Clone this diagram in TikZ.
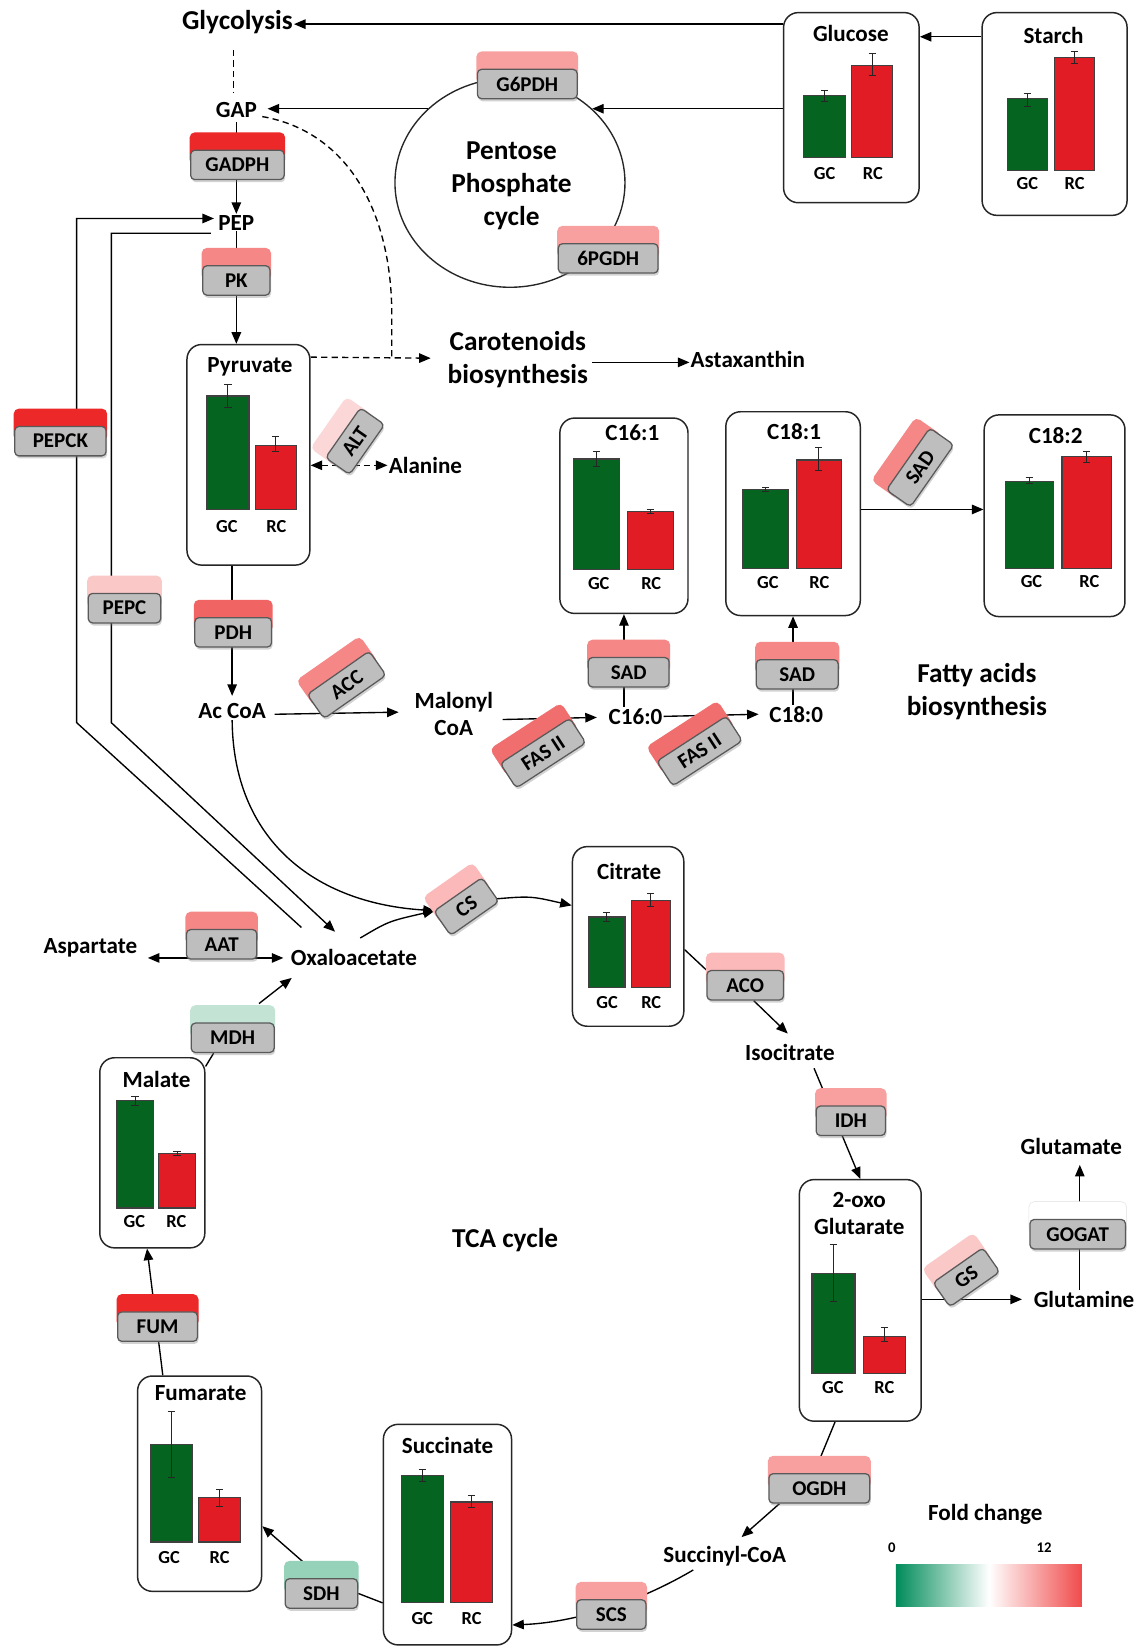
\documentclass[tikz,border=0pt]{standalone}
\usepackage{fontspec}
\setmainfont{Carlito}
\usetikzlibrary{arrows.meta,shadows,calc,shapes.geometric}
\pgfdeclarelayer{bg}
\pgfsetlayers{bg,main}
\definecolor{gbar}{RGB}{4,100,32}
\definecolor{rbar}{RGB}{226,28,36}
\definecolor{egray}{RGB}{190,190,190}
\definecolor{sred}{RGB}{236,40,40}
\definecolor{spdh}{RGB}{240,100,100}
\definecolor{sfas}{RGB}{240,110,110}
\definecolor{ssal}{RGB}{245,135,135}
\definecolor{slt}{RGB}{248,160,160}
\definecolor{saco}{RGB}{251,185,185}
\definecolor{spink}{RGB}{251,200,200}
\definecolor{salt}{RGB}{252,215,215}
\definecolor{smint}{RGB}{195,228,213}
\definecolor{smintb}{RGB}{150,210,185}
\definecolor{lgreen}{RGB}{0,140,90}
\definecolor{lred}{RGB}{240,75,75}
\newcommand\FontBig{\fontsize{26}{31.5}\selectfont\bfseries}
\newcommand\FontMed{\fontsize{22}{25.5}\selectfont\bfseries}
\newcommand\FontEnz{\fontsize{20}{22}\selectfont\bfseries}
\newcommand\FontLab{\fontsize{17.5}{19}\selectfont\bfseries}
\newcommand\FontTiny{\fontsize{14}{16}\selectfont\bfseries}
% enzyme: name, x, y, angle, strip colour, width, label
\newcommand\enz[7]{%
  \begin{scope}[shift={(#2,#3)},rotate=#4]
    \fill[#5,rounded corners=5pt] ({-#6/2-1},-31) rectangle ({#6/2+1},0);
    \node[enzbox,minimum width=#6,transform shape] (#1) at (0,0) {#7};
  \end{scope}}
% bar: colour, x1, x2, top, bottom, error top, error bottom
\newcommand\bbar[7]{%
  \draw[fill=#1,draw=black!75,line width=1.1pt] (#2,#4) rectangle (#3,#5);
  \draw[line width=0.9pt,black!85] ({(#2+#3)/2},#6) -- ({(#2+#3)/2},#7)
     ({(#2+#3)/2-3.5},#6) -- ({(#2+#3)/2+3.5},#6)
     ({(#2+#3)/2-3.5},#7) -- ({(#2+#3)/2+3.5},#7);}
% GC / RC labels: prefix, gc x, rc x, y
\newcommand\gcrc[4]{%
  \node[glab] (#1gc) at (#2,#4) {GC};
  \node[glab] (#1rc) at (#3,#4) {RC};}
\begin{document}
\begin{tikzpicture}[x=1pt,y=-1pt,
  mbox/.style={draw=black!85,line width=1.4pt,rounded corners=14pt,inner sep=0pt},
  enzbox/.style={draw=black!65,fill=egray,line width=1.2pt,rounded corners=4pt,
     minimum height=28pt,inner sep=0pt,font=\FontEnz,
     drop shadow={shadow xshift=1pt,shadow yshift=-2.5pt,opacity=0.35}},
  bigtxt/.style={inner sep=1pt,font=\FontBig,align=center},
  medtxt/.style={inner sep=1pt,font=\FontMed,align=center},
  ttl/.style={inner sep=1pt,font=\FontMed},
  glab/.style={inner sep=0pt,font=\FontLab},
  conn/.style={line width=1.3pt},
  arr/.style={conn,-{Triangle[length=11pt,width=9pt]}},
  darr/.style={conn,{Triangle[length=11pt,width=9pt]}-{Triangle[length=11pt,width=9pt]}},
  dsh/.style={conn,dash pattern=on 6pt off 4pt}]
\begin{pgfonlayer}{bg}
\fill[white] (0,0) rectangle (1085,1568);
\end{pgfonlayer}
\useasboundingbox (0,0) rectangle (1085,1568);

% ---------- metabolite boxes ----------
\node[mbox,minimum width=129,minimum height=181] (glucose) at (810.5,102.5) {};
\node[mbox,minimum width=138,minimum height=193] (starch) at (1004,108.5) {};
\node[mbox,minimum width=117,minimum height=210] (pyruvate) at (236.5,433) {};
\node[mbox,minimum width=122,minimum height=186] (c161) at (594,491) {};
\node[mbox,minimum width=128,minimum height=194] (c181) at (755,489) {};
\node[mbox,minimum width=134,minimum height=192] (c182) at (1004,491) {};
\node[mbox,minimum width=106,minimum height=171] (citrate) at (598,891.5) {};
\node[mbox,minimum width=116,minimum height=230] (oxo) at (819,1238) {};
\node[mbox,minimum width=122,minimum height=210] (succinate) at (426,1461) {};
\node[mbox,minimum width=118,minimum height=205] (fumarate) at (190,1412.5) {};
\node[mbox,minimum width=100,minimum height=181] (malate) at (145,1097.5) {};

\node[ttl] (glucoseT) at (810,32) {Glucose};
\node[ttl] (starchT) at (1003,34) {Starch};
\node[ttl] (pyruvateT) at (238,349) {Pyruvate};
\node[ttl] (c161T) at (602,412) {C16:1};
\node[ttl] (c181T) at (756,411) {C18:1};
\node[ttl] (c182T) at (1005,415) {C18:2};
\node[ttl] (citrateT) at (599,830) {Citrate};
\node[medtxt] (oxoT) at (818,1155) {2-oxo\\Glutarate};
\node[ttl] (succinateT) at (426,1376) {Succinate};
\node[ttl] (fumarateT) at (191,1326) {Fumarate};
\node[ttl] (malateT) at (149,1028) {Malate};

% ---------- bars ----------
\bbar{gbar}{765}{805}{91}{150}{86}{97}
\bbar{rbar}{811}{850}{62}{150}{51}{72}
\gcrc{glc}{785}{831}{165}
\bbar{gbar}{959}{997}{94}{162}{89}{101}
\bbar{rbar}{1004}{1042}{55}{162}{49}{60}
\gcrc{sta}{978}{1023}{175}
\bbar{gbar}{197}{237}{377}{485}{366}{388}
\bbar{rbar}{243}{282}{424}{485}{416}{430}
\gcrc{pyr}{216}{263}{501}
\bbar{gbar}{546}{590}{437}{542}{430}{444}
\bbar{rbar}{597}{641}{487}{542}{485}{489}
\gcrc{cs1}{570}{620}{556}
\bbar{gbar}{707}{751}{466}{541}{464}{468}
\bbar{rbar}{758}{801}{438}{541}{426}{448}
\gcrc{cs2}{731}{780}{555}
\bbar{gbar}{957}{1003}{458}{541}{455}{460}
\bbar{rbar}{1011}{1058}{435}{541}{430}{440}
\gcrc{cs3}{982}{1037}{554}
\bbar{gbar}{560}{595}{873}{940}{869}{877}
\bbar{rbar}{601}{638}{857}{940}{851}{863}
\gcrc{cit}{578}{620}{954}
\bbar{gbar}{773}{814}{1212}{1308}{1185}{1239}
\bbar{rbar}{822}{862}{1272}{1308}{1264}{1277}
\gcrc{oxo}{793}{842}{1321}
\bbar{gbar}{382}{422}{1405}{1526}{1399}{1410}
\bbar{rbar}{429}{469}{1430}{1526}{1424}{1435}
\gcrc{suc}{402}{449}{1541}
\bbar{gbar}{143}{183}{1375}{1468}{1344}{1407}
\bbar{rbar}{189}{229}{1426}{1468}{1418}{1434}
\gcrc{fum}{161}{209}{1483}
\bbar{gbar}{111}{146}{1048}{1150}{1044}{1052}
\bbar{rbar}{151}{186}{1098}{1150}{1096}{1100}
\gcrc{mal}{128}{168}{1163}

% ---------- text labels ----------
\node[bigtxt] (glyco) at (226,21) {Glycolysis};
\node[medtxt] (gap) at (225,105) {GAP};
\node[medtxt] (pep) at (225,212) {PEP};
\node[draw=black!85,line width=1.3pt,ellipse,minimum width=219,minimum height=199,
      inner sep=0pt] (ppp) at (485.5,174) {};
\node[bigtxt] (ppptext) at (487,177) {Pentose\\Phosphate\\cycle};
\node[bigtxt] (carot) at (493,342) {Carotenoids\\biosynthesis};
\node[medtxt] (astax) at (712,342) {Astaxanthin};
\node[medtxt] (alanine) at (405,443) {Alanine};
\node[medtxt] (accoa) at (221,677) {Ac CoA};
\node[medtxt] (malonyl) at (432,680) {Malonyl\\CoA};
\node[medtxt] (c160) at (605,682) {C16:0};
\node[medtxt] (c180) at (758,680) {C18:0};
\node[bigtxt] (fatty) at (930,658) {Fatty acids\\biosynthesis};
\node[medtxt] (aspartate) at (86,902) {Aspartate};
\node[medtxt] (oaa) at (337,912) {Oxaloacetate};
\node[medtxt] (isocit) at (752,1002) {Isocitrate};
\node[medtxt] (glutamate) at (1020,1091) {Glutamate};
\node[medtxt] (glutamine) at (1032,1237) {Glutamine};
\node[bigtxt] (tca) at (481,1181) {TCA cycle};
\node[medtxt] (succoa) at (690,1482) {Succinyl-CoA};
\node[medtxt] (fold) at (938,1442) {Fold change};
\node[inner sep=0pt,font=\FontTiny] (lzero) at (849,1473) {0};
\node[inner sep=0pt,font=\FontTiny] (ltwelve) at (994,1473) {12};
\shade[left color=lgreen,right color=lred,middle color=white] (853,1489) rectangle (1030,1529);

\coordinate (pepckA) at (287,883);
\coordinate (pepcB) at (319,887);
\coordinate (csin) at (414,867);
\coordinate (csout) at (469,856);

% ---------- enzymes ----------
\enz{g6pdh}{502}{80}{0}{slt}{95}{G6PDH}
\enz{pgdh}{579}{246}{0}{slt}{95}{6PGDH}
\enz{gadph}{226}{157}{0}{sred}{89}{GADPH}
\enz{pk}{225}{267}{0}{ssal}{64}{PK}
\enz{pepck}{57.5}{420}{0}{sred}{87}{PEPCK}
\enz{pepc}{118.5}{579}{0}{spink}{69}{PEPC}
\enz{alt}{338}{420}{55}{salt}{58}{ALT}
\enz{pdh}{222}{602}{0}{spdh}{73}{PDH}
\enz{acc}{330}{652}{35}{ssal}{72}{ACC}
\enz{fasa}{517}{717}{33}{sfas}{79}{FAS II}
\enz{fasb}{666}{715}{33}{sfas}{79}{FAS II}
\enz{sada}{598.5}{640}{0}{ssal}{77}{SAD}
\enz{sadb}{759}{642}{0}{ssal}{78}{SAD}
\enz{sadc}{876}{445}{55}{ssal}{72}{SAD}
\enz{aat}{211}{899}{0}{ssal}{67}{AAT}
\enz{mdh}{221.5}{988}{0}{smint}{79}{MDH}
\enz{cs}{444}{863}{35}{saco}{56}{CS}
\enz{aco}{709.5}{938}{0}{saco}{73}{ACO}
\enz{idh}{810}{1067}{0}{slt}{66}{IDH}
\enz{gs}{920}{1216}{35}{spink}{58}{GS}
\enz{gogat}{1026}{1175}{0}{white,draw=black!12}{91}{GOGAT}
\enz{ogdh}{780}{1417}{0}{slt}{96}{OGDH}
\enz{scs}{582}{1537}{0}{slt}{66}{SCS}
\enz{sdh}{306}{1517}{0}{smintb}{69}{SDH}
\enz{fum}{150}{1263}{0}{sred}{76}{FUM}

% ---------- connectors ----------
\begin{pgfonlayer}{bg}
\draw[arr] (glucose.west |- 0,23) -- (glyco.east |- 0,23);
\draw[arr] (starch.west |- 0,35) -- (glucose.east |- 0,35);
\draw[arr] (glucose.west |- ppp.42) -- (ppp.42);
\draw[arr] (ppp.138) -- ($(gap.east |- ppp.138)+(9,0)$);
\draw[dsh] ($(glyco.south)+(-4,14)$) -- ($(gap.north)+(-3,-8)$);
\draw[arr] ($(gap.south)+(0,3)$) -- (pep.north);
\draw[arr] (pep.south) -- (pep.south |- pyruvate.north);
\draw[dsh] ($(gap.east)+(4,6)$) .. controls (330,125) and (373,200) .. (373,300) -- (373,340);
\draw[dsh,-{Triangle[length=11pt,width=9pt]}] (pyruvate.east |- 0,340) -- ($(carot.west)+(-15,-1)$);
\draw[arr] ($(carot.east)+(3,3)$) -- (astax.west |- 0,345);
\draw[dsh,{Triangle[length=11pt,width=9pt]}-{Triangle[length=11pt,width=9pt]}] (pyruvate.east |- alanine.west) -- (alanine.west);
\draw[arr] (pepckA) -- (73,688) -- (73,208) -- ($(pep.west)+(-3,-4)$);
\draw[arr] ($(pep.west)+(-6,10)$) -- (106,222) -- (106,688) -- (pepcB);
\draw[arr] (pyruvate.south -| accoa.north) -- ($(accoa.north)+(0,-6)$);
\draw[arr] ($(accoa.east)+(7,3)$) -- ($(malonyl.west)+(-14,-2)$);
\draw[arr] ($(malonyl.east)+(8,5)$) -- ($(c160.west)+(-10,1)$);
\draw[arr] (c160.east) -- ($(c180.west)+(-9,0)$);
\draw[arr] (c161.south |- c160.north) -- (c161.south);
\draw[arr] (c181.south |- c180.north) -- (c181.south);
\draw[arr] (c181.east |- 0,485) -- (c182.west |- 0,485);
\draw[arr] (accoa.south) .. controls (222,800) and (300,860) .. (csin);
\draw[arr] ($(oaa.north)+(6,-10)$) .. controls (370,877) .. (csin);
\draw[arr] (csout) .. controls (505,853) .. (citrate.west |- 0,862);
\draw[conn] (citrate.east |- 0,904) -- (aco.north west);
\draw[arr] ($(aco.south)+(8,0)$) -- ($(isocit.north)+(-2,-9)$);
\draw[arr] ($(isocit.south)+(23,6)$) -- (oxo.north);
\draw[arr] (oxo.east |- 0,1237) -- ($(glutamine.west)+(-10,0)$);
\draw[arr] ($(glutamine.north)+(-4,0)$) -- ($(glutamate.south)+(8,9)$);
\draw[conn] ($(oxo.south)+(-24,0)$) -- ($(ogdh.north)+(-3,-5)$);
\draw[arr] ($(ogdh.south)+(-38,0)$) -- ($(succoa.north)+(16,-8)$);
\draw[arr] ($(succoa.south)+(-30,2)$) .. controls (600,1530) and (540,1545) .. (succinate.east |- 0,1547);
\draw[conn] (succinate.west |- 0,1526) -- (sdh.east);
\draw[arr] ($(sdh.north west)+(17,-16)$) -- (fumarate.east |- 0,1453);
\draw[arr] ($(fumarate.north)+(-35,0)$) -- ($(malate.south)+(-5,0)$);
\draw[conn] ($(malate.north east)+(0,9)$) -- ($(mdh.south west)+(22,0)$);
\draw[arr] ($(mdh.north east)+(-15,-18)$) -- ($(oaa.south west)+(2,10)$);
\draw[darr] ($(aspartate.east)+(9,10)$) -- ($(oaa.west)+(-6,0)$);
\end{pgfonlayer}
\end{tikzpicture}
\end{document}
